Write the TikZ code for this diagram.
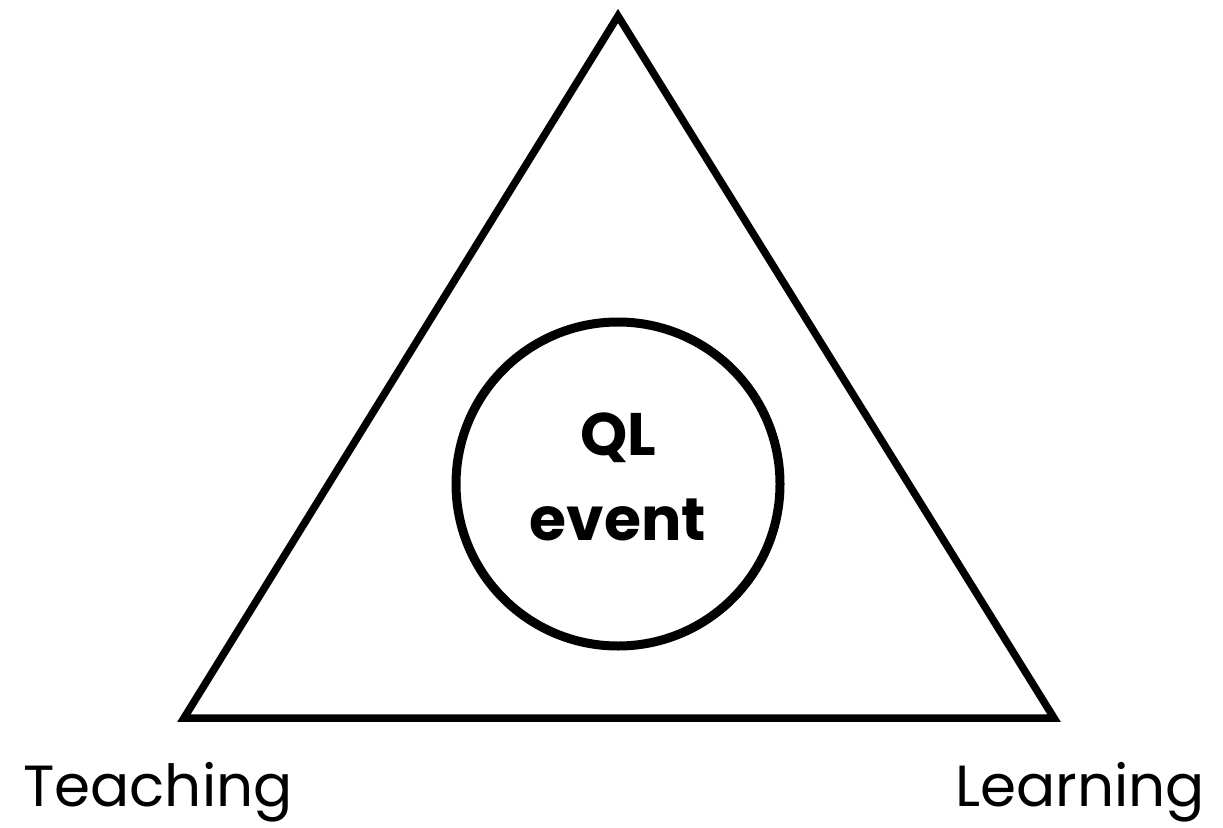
\documentclass[tikz,border=0pt]{standalone}
\usepackage{fontspec}
\setmainfont{Poppins}
\begin{document}
\begin{tikzpicture}[x=1pt,y=-1pt,
  tri/.style={draw=black,line width=7.5pt,line join=miter},
  ring/.style={draw=black,line width=9pt,circle,minimum size=324pt,inner sep=0pt},
  lbl/.style={font=\fontsize{58}{64}\selectfont,inner sep=0pt,anchor=base west},
  ctr/.style={font=\fontsize{60}{66}\selectfont\bfseries,inner sep=0pt,anchor=base}]
\useasboundingbox (0,0) rectangle (1223,827);
\coordinate (A) at (618,16);
\coordinate (B) at (184,718);
\coordinate (C) at (1054,718);
\draw[tri] (A) -- (B) -- (C) -- cycle;
\node[ring] (circ) at (618,484) {};
\node[ctr] (ql) at (618,455) {QL};
\node[ctr] (ev) at (618,540) {event};
\node[lbl] (teach) at (23,806) {Teaching};
\node[lbl,anchor=base east] (learn) at (1205,806) {Learning};
\end{tikzpicture}
\end{document}
